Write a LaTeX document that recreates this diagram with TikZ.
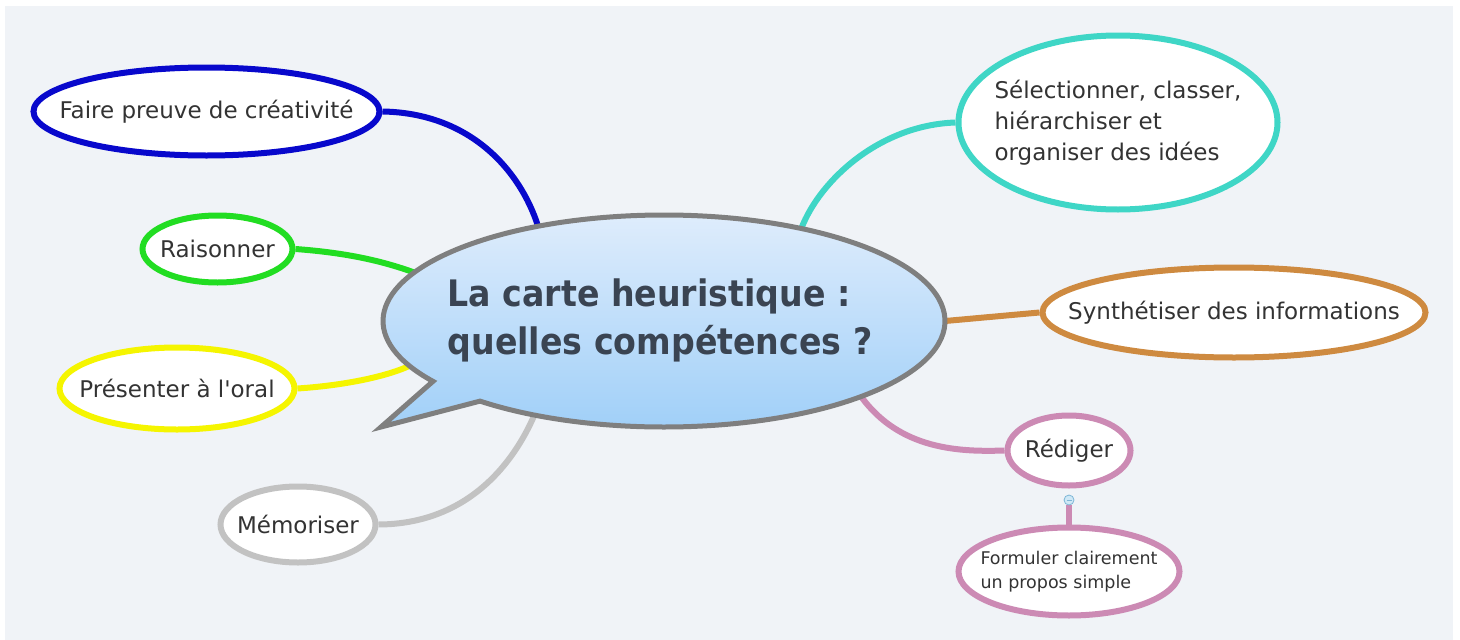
\documentclass[tikz,border=0pt]{standalone}
\usepackage{fontspec}
\setmainfont[Ligatures=TeXOff]{DejaVu Sans}
\newfontfamily\titlefont[FakeStretch=0.91]{DejaVu Sans}
\usetikzlibrary{shapes.geometric,calc}
\definecolor{panelcol}{HTML}{F0F3F7}
\definecolor{cblue}{HTML}{0808CC}
\definecolor{cgreen}{HTML}{22DD22}
\definecolor{cyellow}{HTML}{F5F500}
\definecolor{cgray}{HTML}{C2C2C2}
\definecolor{cteal}{HTML}{3FD6C6}
\definecolor{corange}{HTML}{CE8A40}
\definecolor{cpink}{HTML}{CC8AB4}
\definecolor{bubline}{HTML}{7F7F7F}
\definecolor{bubtop}{HTML}{E2EEFC}
\definecolor{bubbot}{HTML}{9DCEF8}
\definecolor{txt}{HTML}{333333}
\definecolor{ttxt}{HTML}{3A4452}
\definecolor{togfill}{HTML}{CFE8F6}
\definecolor{togline}{HTML}{7DB6D6}
\pgfdeclarelayer{panel}
\pgfdeclarelayer{links}
\pgfsetlayers{panel,links,main}
\tikzset{
  leaf/.style={ellipse, draw, line width=6pt, fill=white, inner sep=0pt},
  leaftext/.style={text=txt, align=left, inner sep=0pt, font=\fontsize{23}{31}\selectfont},
  smalltext/.style={leaftext, font=\fontsize{17.5}{24}\selectfont},
  link/.style={line width=6pt},
  bubble/.style={top color=bubtop, bottom color=bubbot, draw=bubline, line width=5pt},
  titletext/.style={text=ttxt, align=left, inner sep=0pt,
    font=\titlefont\bfseries\fontsize{36.5}{48}\selectfont}
}
\begin{document}
\begin{tikzpicture}[x=1pt,y=-1pt]
\begin{pgfonlayer}{panel}
  \fill[white] (0,0) rectangle (1460,640);
  \fill[panelcol] (5,6) rectangle (1453,640);
\end{pgfonlayer}
\useasboundingbox (0,0) rectangle (1460,640);

% central bubble
\path[bubble] ($(664,321)+(229.1:281pt and 106pt)$)
  arc[start angle=229.1, end angle=574.7, x radius=281pt, y radius=106pt]
  -- (381,427) -- cycle;
\node[ellipse, minimum width=562pt, minimum height=212pt, inner sep=0pt] (center) at (664,321) {};
\node[titletext] (title) at (660,320) {La carte heuristique :\\quelles compétences ?};

% leaves
\node[leaf, draw=cblue, minimum width=346pt, minimum height=88pt,
  label={[leaftext]center:Faire preuve de créativité}] (faire) at (206.5,111.5) {};
\node[leaf, draw=cgreen, minimum width=150pt, minimum height=67pt,
  label={[leaftext]center:Raisonner}] (raison) at (217.5,249) {};
\node[leaf, draw=cyellow, minimum width=235pt, minimum height=82pt,
  label={[leaftext]center:Présenter à l'oral}] (oral) at (177,388.5) {};
\node[leaf, draw=cgray, minimum width=155pt, minimum height=76pt,
  label={[leaftext]center:Mémoriser}] (memo) at (298,524.5) {};
\node[leaf, draw=cteal, minimum width=319pt, minimum height=174pt,
  label={[leaftext]center:Sélectionner, classer,\\hiérarchiser et\\organiser des idées}] (select) at (1118,122.5) {};
\node[leaf, draw=corange, minimum width=383pt, minimum height=90pt,
  label={[leaftext]center:Synthétiser des informations}] (synth) at (1234,312.5) {};
\node[leaf, draw=cpink, minimum width=123pt, minimum height=70pt,
  label={[leaftext]center:Rédiger}] (rediger) at (1069,450.5) {};
\node[leaf, draw=cpink, minimum width=221pt, minimum height=88pt,
  label={[smalltext]center:Formuler clairement\\un propos simple}] (formuler) at (1069,571.5) {};
\node[circle, draw=togline, fill=togfill, line width=0.8pt, minimum size=10pt, inner sep=0pt] (toggle) at (1069,500) {};
\draw[togline, line width=1pt] ([xshift=-2.5pt]toggle.center) -- ([xshift=2.5pt]toggle.center);

% connectors
\begin{pgfonlayer}{links}
  \draw[link, cblue] (faire.east) .. controls (470,113) and (520,170) .. (center.143);
  \draw[link, cgreen] (raison.east) .. controls (350,253) and (385,262) .. (center.169);
  \draw[link, cyellow] (oral.east) .. controls (350,385) and (390,375) .. (center.190);
  \draw[link, cgray] (memo.east) .. controls (470,524) and (515,460) .. (center.216);
  \draw[link, cteal] (select.west) .. controls (880,125) and (820,180) .. (center.34);
  \draw[link, corange] (synth.west) -- (center.east);
  \draw[link, cpink] (rediger.west) .. controls (960,452) and (900,450) .. (center.339);
  \draw[link, cpink] (toggle.south) -- (formuler.north);
\end{pgfonlayer}
\end{tikzpicture}
\end{document}
